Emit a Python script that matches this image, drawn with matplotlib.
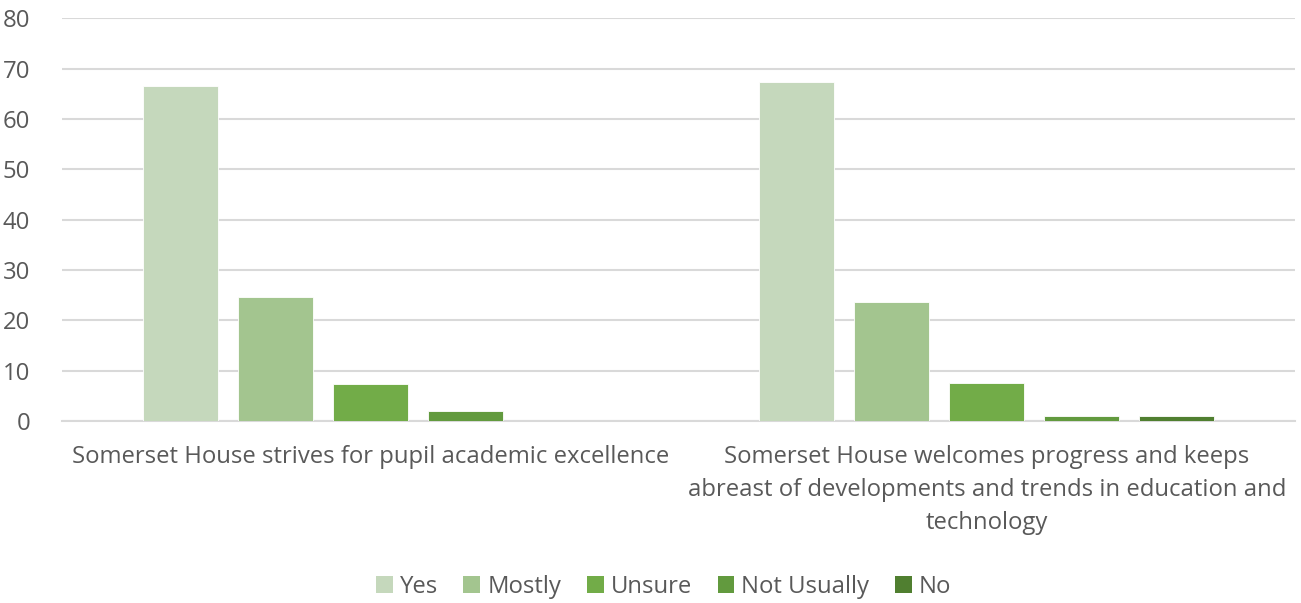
import numpy as np
import matplotlib
matplotlib.use("Agg")
import matplotlib.pyplot as plt
from matplotlib.patches import Patch

categories = ["Somerset House strives for pupil academic excellence",
              "Somerset House welcomes progress and keeps\nabreast of developments and trends in education and\ntechnology"]
series = ["Yes", "Mostly", "Unsure", "Not Usually", "No"]
yes = [66.5, 67.3]
mostly = [24.6, 23.6]
unsure = [7.3, 7.5]
not_usually = [2.0, 1.0]
no = [0.0, 1.0]
colors = ["#C5D8BC", "#A3C58F", "#72AC48", "#629A3E", "#507F30"]

plt.rcParams["font.family"] = ["Open Sans", "DejaVu Sans"]
text_color = "#595959"
fs = 17.2

fig = plt.figure(figsize=(13.01, 6.03), dpi=100)
ax = fig.add_axes([0.0477, 0.3018, 0.9477, 0.668])

x = np.arange(len(categories))
width = 0.1217
step = 0.154
values = [yes, mostly, unsure, not_usually, no]
for i, vals in enumerate(values):
    offset = (i - 2) * step
    ax.bar(x + offset, vals, width, color=colors[i], edgecolor="white", linewidth=0.6, zorder=3)

ax.set_xlim(-0.5, 1.5)
ax.set_ylim(0, 80)
ax.set_yticks(range(0, 81, 10))
ax.yaxis.grid(True, color="#D9D9D9", linewidth=1.5, zorder=0)
ax.set_axisbelow(True)
for s in ["top", "right", "left"]:
    ax.spines[s].set_visible(False)
ax.spines["bottom"].set_color("#D9D9D9")
ax.spines["bottom"].set_linewidth(1.5)
ax.tick_params(axis="both", length=0, labelsize=fs, colors=text_color)
ax.tick_params(axis="y", pad=23)
ax.tick_params(axis="x", pad=17)
ax.set_xticks(x)
ax.set_xticklabels(categories, linespacing=1.5)

handles = [Patch(facecolor=c, label=s) for c, s in zip(colors, series)]
fig.legend(handles=handles, loc="center", bbox_to_anchor=(0.51, 0.027), ncol=5,
           frameon=False, fontsize=fs, labelcolor=text_color,
           handlelength=0.7, handleheight=0.7, handletextpad=0.3, columnspacing=1.07)

fig.savefig("out.png", dpi=100)
